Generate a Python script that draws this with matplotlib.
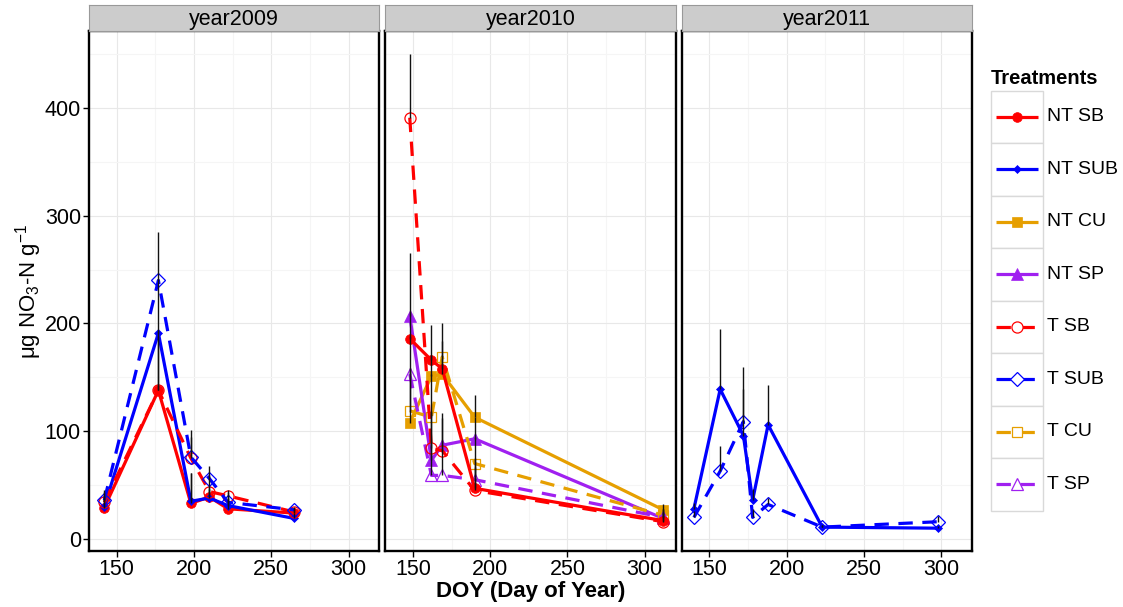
import numpy as np
import matplotlib
matplotlib.use('Agg')
import matplotlib.pyplot as plt
from matplotlib.patches import Rectangle
from matplotlib.ticker import MultipleLocator

plt.rcParams['font.family'] = ['Liberation Sans', 'DejaVu Sans']
plt.rcParams['mathtext.fontset'] = 'custom'
plt.rcParams['mathtext.rm'] = 'Liberation Sans'
plt.rcParams['mathtext.it'] = 'Liberation Sans:italic'
plt.rcParams['mathtext.bf'] = 'Liberation Sans:bold'
plt.rcParams['mathtext.default'] = 'regular'

# ---------------- data ----------------
years = ['year2009', 'year2010', 'year2011']
treatments = ['NT SB', 'NT SUB', 'NT CU', 'NT SP', 'T SB', 'T SUB', 'T CU', 'T SP']

doy_2009 = [142, 177, 198, 210, 222, 265]
doy_2010 = [148, 162, 169, 190, 312]
doy_2011 = [140, 157, 172, 178, 188, 223, 298]

# 2009 (means and upper error)
nt_sb_2009 = [29, 138, 33, 39, 28, 24]
nt_sb_2009_se = [8, 50, 28, 10, 10, 4]
nt_sub_2009 = [30, 191, 35, 38, 31, 19]
nt_sub_2009_se = [10, 50, 26, 8, 10, 5]
t_sb_2009 = [34, 138, 75, 44, 40, 25]
t_sb_2009_se = [10, 55, 20, 15, 5, 4]
t_sub_2009 = [36, 240, 76, 56, 34, 27]
t_sub_2009_se = [9, 45, 25, 12, 10, 3]

# 2010
nt_sb_2010 = [186, 166, 158, 47, 17]
nt_sb_2010_se = [25, 33, 42, 20, 8]
nt_cu_2010 = [108, 151, 153, 113, 27]
nt_cu_2010_se = [48, 20, 15, 21, 5]
nt_sp_2010 = [207, 73, 87, 93, 19]
nt_sp_2010_se = [58, 45, 30, 20, 8]
t_sb_2010 = [391, 84, 82, 45, 16]
t_sb_2010_se = [59, 35, 30, 25, 8]
t_cu_2010 = [119, 113, 169, 70, 22]
t_cu_2010_se = [40, 40, 15, 25, 6]
t_sp_2010 = [153, 59, 59, 55, 20]
t_sp_2010_se = [35, 30, 28, 20, 8]

# 2011
nt_sub_2011 = [28, 139, 96, 36, 106, 11, 10]
nt_sub_2011_se = [5, 56, 64, 10, 37, 2, 2]
t_sub_2011 = [20, 63, 109, 20, 32, 11, 16]
t_sub_2011_se = [6, 23, 30, 8, 6, 2, 5]

panel_series = {
    'year2009': [('NT SB', doy_2009, nt_sb_2009, nt_sb_2009_se),
                 ('NT SUB', doy_2009, nt_sub_2009, nt_sub_2009_se),
                 ('T SB', doy_2009, t_sb_2009, t_sb_2009_se),
                 ('T SUB', doy_2009, t_sub_2009, t_sub_2009_se)],
    'year2010': [('NT CU', doy_2010, nt_cu_2010, nt_cu_2010_se),
                 ('NT SP', doy_2010, nt_sp_2010, nt_sp_2010_se),
                 ('T CU', doy_2010, t_cu_2010, t_cu_2010_se),
                 ('T SP', doy_2010, t_sp_2010, t_sp_2010_se),
                 ('T SB', doy_2010, t_sb_2010, t_sb_2010_se),
                 ('NT SB', doy_2010, nt_sb_2010, nt_sb_2010_se)],
    'year2011': [('NT SUB', doy_2011, nt_sub_2011, nt_sub_2011_se),
                 ('T SUB', doy_2011, t_sub_2011, t_sub_2011_se)],
}

# ---------------- styles ----------------
RED, BLUE, ORANGE, PURPLE = '#FF0000', '#0000FF', '#E69F00', '#A020F0'
DASH = (0, (4.5, 3))
styles = {
    'NT SB':  dict(color=RED, marker='o', ms=7, ls='-', filled=True),
    'NT SUB': dict(color=BLUE, marker='D', ms=4.5, ls='-', filled=True),
    'NT CU':  dict(color=ORANGE, marker='s', ms=6.5, ls='-', filled=True),
    'NT SP':  dict(color=PURPLE, marker='^', ms=8, ls='-', filled=True),
    'T SB':   dict(color=RED, marker='o', ms=8, ls=DASH, filled=False),
    'T SUB':  dict(color=BLUE, marker='D', ms=7.5, ls=DASH, filled=False),
    'T CU':   dict(color=ORANGE, marker='s', ms=7.5, ls=DASH, filled=False),
    'T SP':   dict(color=PURPLE, marker='^', ms=9, ls=DASH, filled=False),
}

W, H = 1123, 607
fig = plt.figure(figsize=(W / 100, H / 100), dpi=100)

def fx(px):
    return px / W

def fy(py):
    return 1 - py / H

panel_left = [89.3, 385.5, 682.0]
panel_w = 290.0
top_px, bot_px = 31.0, 550.7
strip_top = 5.0
xlim = (132.3, 319.9)
ylim = (-10.9, 471.5)

for i, yr in enumerate(years):
    ax = fig.add_axes([fx(panel_left[i]), fy(bot_px), panel_w / W, (bot_px - top_px) / H])
    ax.set_xlim(*xlim)
    ax.set_ylim(*ylim)
    ax.xaxis.set_major_locator(MultipleLocator(50))
    ax.xaxis.set_minor_locator(MultipleLocator(25))
    ax.yaxis.set_major_locator(MultipleLocator(100))
    ax.yaxis.set_minor_locator(MultipleLocator(50))
    ax.grid(which='major', color='#E8E8E8', lw=0.8, zorder=0)
    ax.grid(which='minor', color='#F5F5F5', lw=0.8, zorder=0)
    ax.set_axisbelow(True)
    ax.tick_params(which='minor', length=0)
    ax.tick_params(which='major', length=4, width=1, color='black', labelsize=15.5, pad=2)
    if i > 0:
        ax.tick_params(axis='y', labelleft=False, left=False)
    for sp in ax.spines.values():
        sp.set_color('black')
        sp.set_linewidth(1.7)

    for name, xs, ys, se in panel_series[yr]:
        st = styles[name]
        ax.plot(xs, ys, color=st['color'], lw=2.3, ls=st['ls'], marker=st['marker'],
                ms=st['ms'],
                mfc=st['color'] if st['filled'] else 'none',
                mec=st['color'], mew=0.9 if not st['filled'] else 0.5,
                zorder=3)
    for name, xs, ys, se in panel_series[yr]:
        ys_a = np.array(ys, float)
        se_a = np.array(se, float)
        ax.vlines(xs, ys_a, ys_a + se_a, color='#111111', lw=1.0, zorder=5)

    # strip
    sax = fig.add_axes([fx(panel_left[i]), fy(top_px), panel_w / W, (top_px - strip_top) / H])
    sax.set_facecolor('#CCCCCC')
    sax.set_xticks([])
    sax.set_yticks([])
    for sp in sax.spines.values():
        sp.set_color('#999999')
        sp.set_linewidth(0.8)
    sax.text(0.5, 0.45, yr, ha='center', va='center', fontsize=15.5, transform=sax.transAxes)

# axis labels
fig.text(fx(530.7), fy(591), 'DOY (Day of Year)', ha='center', va='center',
         fontsize=16, fontweight='bold')
fig.text(fx(29), fy(291), r'μg NO$_3$-N g$^{-1}$', ha='center', va='center',
         fontsize=16, rotation=90)

# legend
leg_x0, leg_x1 = 991.0, 1043.3
leg_y0, leg_y1 = 90.7, 510.7
lax = fig.add_axes([fx(leg_x0), fy(leg_y1), (leg_x1 - leg_x0) / W, (leg_y1 - leg_y0) / H])
lax.set_xlim(0, 1)
lax.set_ylim(len(treatments), 0)
lax.axis('off')
fig.text(fx(991), fy(78), 'Treatments', ha='left', va='center', fontsize=14.5, fontweight='bold')
cell_h = (leg_y1 - leg_y0) / len(treatments)
for k, name in enumerate(treatments):
    st = styles[name]
    lax.add_patch(Rectangle((0, k), 1, 1, facecolor='white', edgecolor='#D9D9D9', lw=1.0,
                            clip_on=False))
    lax.plot([0.1, 0.9], [k + 0.5, k + 0.5], color=st['color'], lw=2.3, ls=st['ls'],
             solid_capstyle='butt', dash_capstyle='butt')
    lax.plot([0.5], [k + 0.5], marker=st['marker'], ms=st['ms'],
             mfc=st['color'] if st['filled'] else 'white', mec=st['color'],
             mew=0.9 if not st['filled'] else 0.5, ls='none')
    fig.text(fx(1047), fy(leg_y0 + cell_h * (k + 0.5)), name, ha='left', va='center',
             fontsize=14)

fig.savefig('out.png', dpi=100)
